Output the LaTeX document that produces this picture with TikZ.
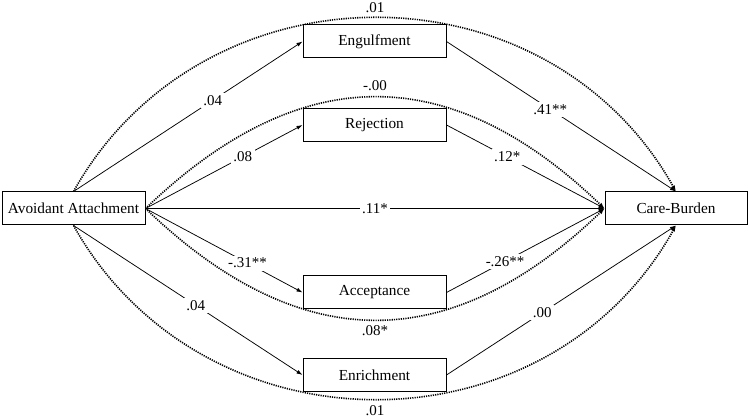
\documentclass[tikz,border=0pt]{standalone}
\usepackage{fontspec}
\setmainfont{Liberation Serif}
\usetikzlibrary{arrows.meta}
\begin{document}
\begin{tikzpicture}[x=1pt,y=-1pt,
  box/.style={draw, line width=1pt, minimum width=143pt, minimum height=33pt, inner sep=0pt, font=\fontsize{15.3}{18}\selectfont, fill=white},
  conn/.style={line width=0.75pt, -{Latex[length=6pt,width=4pt]}},
  dotc/.style={line width=1.6pt, dash pattern=on 1.2pt off 1.1pt, -{Latex[length=6pt,width=4pt]}},
  lbl/.style={fill=white, inner sep=2.5pt, font=\fontsize{15}{17}\selectfont}
]
\useasboundingbox (0,0) rectangle (749,419);

\node[box] (av) at (73.5,208.5) {Avoidant Attachment};
\node[box, minimum width=142pt] (cb) at (676,208.5) {Care-Burden};
\node[box] (eng) at (374.5,41.5) {Engulfment};
\node[box] (rej) at (374.5,125) {Rejection};
\node[box] (acc) at (374.5,292.5) {Acceptance};
\node[box] (enr) at (374.5,375) {Enrichment};

% dotted total-effect curves
\draw[dotc] (av.north) .. controls (203.5,-40) and (546,-40) .. (cb.north);
\draw[dotc] (av.east) .. controls (300,60) and (450,60) .. (cb.west);
\draw[dotc] (av.east) .. controls (300,357) and (450,357) .. (cb.west);
\draw[dotc] (av.south) .. controls (203.5,457) and (546,457) .. (cb.south);

% solid paths
\draw[conn] (av.north) -- node[lbl, pos=0.608] (l1) {.04} (eng.west);
\draw[conn] (eng.east) -- node[lbl, pos=0.452] (l2) {.41**} (cb.north);
\draw[conn] (av.east) -- node[lbl, pos=0.62] (l3) {.08} (rej.west);
\draw[conn] (rej.east) -- node[lbl, pos=0.384] (l4) {.12*} (cb.west);
\draw[conn] (av.east) -- node[lbl, pos=0.5] (l5) {.11*} (cb.west);
\draw[conn] (av.east) -- node[lbl, pos=0.65] (l6) {-.31**} (acc.west);
\draw[conn] (acc.east) -- node[lbl, pos=0.371] (l7) {-.26**} (cb.west);
\draw[conn] (av.south) -- node[lbl, pos=0.534] (l8) {.04} (enr.west);
\draw[conn] (enr.east) -- node[lbl, pos=0.417] (l9) {.00} (cb.south);

% curve labels
\node[lbl] (c1) at (375,8) {.01};
\node[lbl] (c2) at (375,86) {-.00};
\node[lbl] (c3) at (375,331) {.08*};
\node[lbl] (c4) at (375,411) {.01};
\end{tikzpicture}
\end{document}
